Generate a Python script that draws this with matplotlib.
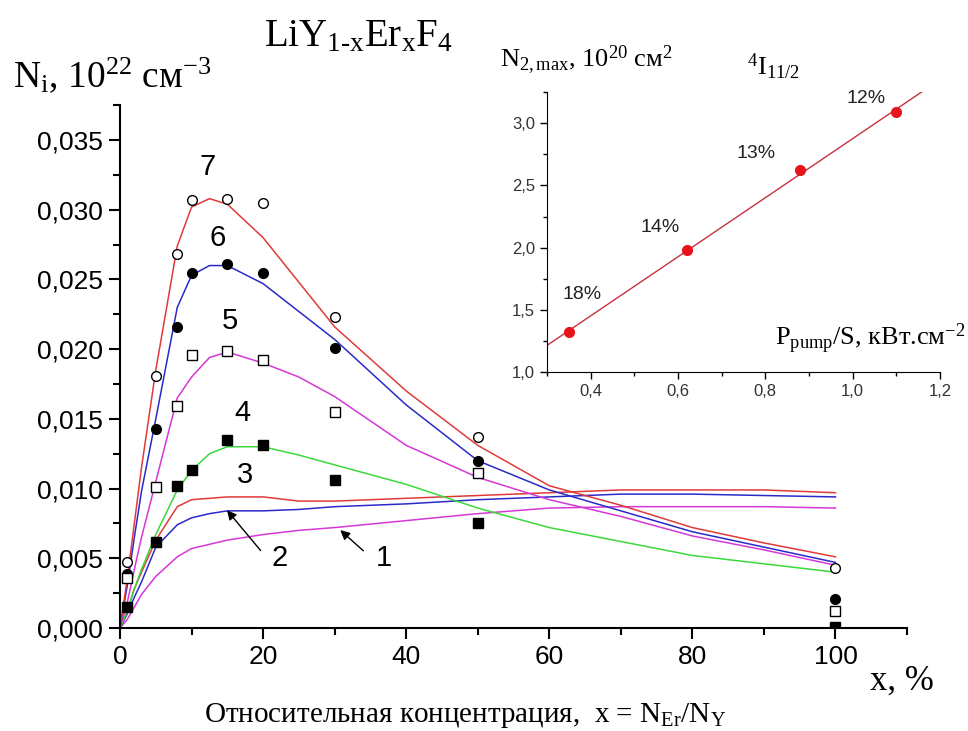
import numpy as np
import matplotlib
matplotlib.use('Agg')
import matplotlib.pyplot as plt
from matplotlib.ticker import MultipleLocator, FuncFormatter

plt.rcParams['font.family'] = ['Liberation Sans', 'DejaVu Sans']
plt.rcParams['mathtext.fontset'] = 'custom'
plt.rcParams['mathtext.rm'] = 'Liberation Serif'
plt.rcParams['mathtext.it'] = 'Liberation Serif'
plt.rcParams['mathtext.default'] = 'regular'

# model curves (x in %, N in 1e22 cm^-3)
x_curve = [0, 1, 2, 3, 5, 8, 10, 12.5, 15, 20, 25, 30, 40, 50, 60, 70, 80, 90, 100]
curve1 = [0, 0.0006, 0.0015, 0.0024, 0.0037, 0.0051, 0.0057, 0.0060, 0.0063, 0.0067, 0.0070, 0.0072, 0.0077, 0.0082, 0.0086, 0.0087, 0.0087, 0.0087, 0.0086]
curve2 = [0, 0.0010, 0.0022, 0.0033, 0.0058, 0.0074, 0.0079, 0.0082, 0.0084, 0.0084, 0.0085, 0.0087, 0.0089, 0.0092, 0.0094, 0.0096, 0.0096, 0.0095, 0.0094]
curve3 = [0, 0.0012, 0.0028, 0.0040, 0.0063, 0.0087, 0.0092, 0.0093, 0.0094, 0.0094, 0.0091, 0.0091, 0.0093, 0.0095, 0.0097, 0.0099, 0.0099, 0.0099, 0.0097]
curve4 = [0, 0.0012, 0.0028, 0.0042, 0.0067, 0.0099, 0.0113, 0.0125, 0.0130, 0.0130, 0.0124, 0.0117, 0.0103, 0.0086, 0.0072, 0.0062, 0.0052, 0.0046, 0.0040]
curve5 = [0, 0.0018, 0.0042, 0.0065, 0.0105, 0.0165, 0.0180, 0.0194, 0.0198, 0.0190, 0.0180, 0.0166, 0.0131, 0.0108, 0.0092, 0.0080, 0.0066, 0.0056, 0.0045]
curve6 = [0, 0.0030, 0.0065, 0.0098, 0.0150, 0.0230, 0.0253, 0.0260, 0.0260, 0.0247, 0.0227, 0.0207, 0.0160, 0.0120, 0.0099, 0.0084, 0.0069, 0.0058, 0.0047]
curve7 = [0, 0.0035, 0.0075, 0.0115, 0.0185, 0.0274, 0.0302, 0.0308, 0.0304, 0.0280, 0.0248, 0.0216, 0.0170, 0.0131, 0.0102, 0.0088, 0.0072, 0.0061, 0.0051]
curve_colors = ['#d637d6', '#2a2ac8', '#e03a3a', '#3cd83c', '#d637d6', '#2a2ac8', '#e03a3a']

# experimental points
x_exp = [1, 5, 8, 10, 15, 20, 30, 50, 100]
exp7 = [0.0047, 0.0181, 0.0268, 0.0307, 0.0308, 0.0305, 0.0223, 0.0137, 0.0043]
exp6 = [0.0039, 0.0143, 0.0216, 0.0255, 0.0261, 0.0255, 0.0201, 0.0120, 0.0021]
exp5 = [0.0036, 0.0101, 0.0159, 0.0196, 0.0199, 0.0192, 0.0155, 0.0111, 0.0012]
exp4 = [0.0015, 0.0062, 0.0102, 0.0113, 0.0135, 0.0131, 0.0106, 0.0075, 0.0001]

# inset data
p_pump = [0.35, 0.62, 0.88, 1.10]
n2_max = [1.32, 1.98, 2.62, 3.09]
conc_labels = ['18%', '14%', '13%', '12%']
label_pos = [(0.38, 1.62), (0.56, 2.16), (0.78, 2.76), (1.03, 3.20)]

fig = plt.figure(figsize=(9.68, 7.31), dpi=100)
ax = fig.add_axes([0.124, 0.141, 0.813, 0.715])

curves = [curve1, curve2, curve3, curve4, curve5, curve6, curve7]
for c, col in zip(curves, curve_colors):
    ax.plot(x_curve, c, color=col, lw=1.1, zorder=2)

ax.plot(x_exp, exp7, 'o', mfc='white', mec='black', ms=7, mew=1, zorder=3)
ax.plot(x_exp, exp6, 'o', mfc='black', mec='black', ms=7, zorder=3)
ax.plot(x_exp, exp5, 's', mfc='white', mec='black', ms=7, mew=1, zorder=3)
ax.plot(x_exp, exp4, 's', mfc='black', mec='black', ms=7, zorder=3)

ax.set_xlim(0, 110)
ax.set_ylim(0, 0.0375)
ax.spines['top'].set_visible(False)
ax.spines['right'].set_visible(False)
for s in ['left', 'bottom']:
    ax.spines[s].set_linewidth(1.5)
ax.xaxis.set_major_locator(MultipleLocator(20))
ax.xaxis.set_minor_locator(MultipleLocator(10))
ax.yaxis.set_major_locator(MultipleLocator(0.005))
ax.yaxis.set_minor_locator(MultipleLocator(0.0025))
ax.yaxis.set_major_formatter(FuncFormatter(lambda v, p: f"{v:.3f}".replace('.', ',')))
ax.tick_params(which='major', direction='out', length=8, width=1.5, labelsize=19, pad=4)
ax.tick_params(which='minor', direction='out', length=5, width=1.5)

# curve numbers
for txt, xy in [('7', (12.2, 0.0331)), ('6', (13.7, 0.0280)), ('5', (15.3, 0.0220)),
                ('4', (17.1, 0.01545)), ('3', (17.5, 0.0110)), ('2', (22.3, 0.0050)),
                ('1', (36.8, 0.0050))]:
    ax.text(xy[0], xy[1], txt, fontsize=21, ha='center', va='center')
ax.annotate('', xy=(14.7, 0.0086), xytext=(19.9, 0.0054),
            arrowprops=dict(arrowstyle='-|>', color='black', lw=1, mutation_scale=14))
ax.annotate('', xy=(30.5, 0.00715), xytext=(34.3, 0.0054),
            arrowprops=dict(arrowstyle='-|>', color='black', lw=1, mutation_scale=14))

serif = ['Liberation Serif', 'DejaVu Serif']
fig.text(358 / 968, 1 - 46 / 731, r'LiY$_{1\text{-}x}$Er$_x$F$_4$', family=serif, fontsize=28,
         ha='center', va='baseline')
fig.text(13 / 968, 1 - 87 / 731, r'N$_i$, 10$^{22}$ см$^{-3}$', family=serif, fontsize=27,
         ha='left', va='baseline')
fig.text(870 / 968, 1 - 690 / 731, 'x, %', family=serif, fontsize=25, ha='left', va='baseline')
fig.text(465 / 968, 1 - 722 / 731, r'Относительная концентрация,  x = N$_{Er}$/N$_Y$',
         family=serif, fontsize=21, ha='center', va='baseline')

# inset
ax2 = fig.add_axes([0.565, 0.491, 0.406, 0.383])
fit = np.polyfit(p_pump, n2_max, 1)
xf = np.array([0.3, 1.16])
ax2.plot(xf, np.polyval(fit, xf), color='#c83040', lw=1)
ax2.plot(p_pump, n2_max, 'o', color='#e8141c', ms=7)
for lab, pos in zip(conc_labels, label_pos):
    ax2.text(pos[0], pos[1], lab, fontsize=14, ha='center', va='center', color='#222222')
ax2.set_xlim(0.3, 1.2)
ax2.set_ylim(1.0, 3.25)
ax2.spines['top'].set_visible(False)
ax2.spines['right'].set_visible(False)
ax2.xaxis.set_major_locator(MultipleLocator(0.2))
ax2.xaxis.set_minor_locator(MultipleLocator(0.1))
ax2.yaxis.set_major_locator(MultipleLocator(0.5))
ax2.yaxis.set_minor_locator(MultipleLocator(0.25))
ax2.xaxis.set_major_formatter(FuncFormatter(lambda v, p: f"{v:.1f}".replace('.', ',')))
ax2.yaxis.set_major_formatter(FuncFormatter(lambda v, p: f"{v:.1f}".replace('.', ',')))
ax2.tick_params(which='major', direction='out', length=5, width=1, labelsize=12,
                labelcolor='#333333')
ax2.tick_params(which='minor', direction='out', length=3, width=1)

fig.text(500 / 968, 1 - 67 / 731, r'N$_{2,max}$, 10$^{20}$ см$^2$', family=serif, fontsize=19,
         ha='left', va='baseline')
fig.text(747 / 968, 1 - 75 / 731, r'$^4$I$_{11/2}$', family=serif, fontsize=19,
         ha='left', va='baseline')
fig.text(775 / 968, 1 - 345 / 731, r'P$_{pump}$/S, кВт.см$^{-2}$', family=serif, fontsize=19,
         ha='left', va='baseline')

fig.savefig('out.png', dpi=100)
